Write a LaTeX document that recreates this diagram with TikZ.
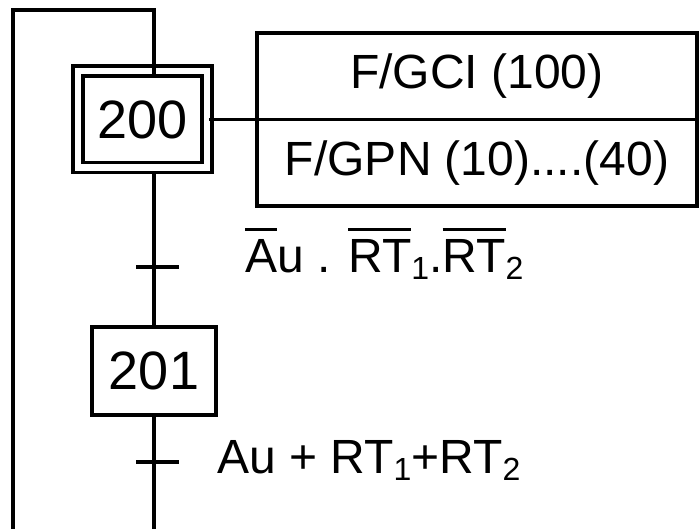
\documentclass[tikz,border=0pt]{standalone}
\usepackage{fontspec}
\setmainfont{Liberation Sans}
\usetikzlibrary{positioning}
\tikzstyle{etape} = [rectangle, draw=black, line width=3.5pt, minimum width=124pt, minimum height=88pt, inner sep=0pt, font=\fontsize{54}{54}\selectfont]
\tikzstyle{etapeinit} = [etape, double, double distance=6.5pt, minimum width=129pt, minimum height=96.5pt]
\tikzstyle{action} = [rectangle, draw=black, line width=3.5pt, outer sep=0pt, minimum width=440pt, minimum height=86.5pt, inner sep=0pt, font=\fontsize{48}{48}\selectfont]
\tikzstyle{liaison} = [line width=3.5pt]
\tikzstyle{recept} = [anchor=base west, inner sep=0pt, font=\fontsize{48}{48}\selectfont]
\newcommand{\barre}[1]{\leavevmode\vbox{\hrule height 3pt\kern 8pt\hbox{#1}}}
\newcommand{\indice}[1]{\raisebox{-7pt}{\fontsize{32}{32}\selectfont #1}}

\begin{document}
\begin{tikzpicture}[x=1pt, y=-1pt]
  \useasboundingbox (0,0) rectangle (700,529);
  \node[etapeinit] (s200) at (142.5,119.5) {200};
  \node[etape] (s201) at (154,371) {201};
  \node[action] (gci) at (477,76.25) {F/GCI (100)};
  \node[action, below=0pt of gci] (gpn) {F/GPN (10)....(40)};
  \coordinate (t1) at (154,267);
  \coordinate (t2) at (154,462);
  \coordinate (bas) at (154,529);
  \coordinate (retour) at (13,529);

  % liaisons
  \draw[liaison] (retour) -- (13,10) -- (154,10) -- ([yshift=-5pt]s200.north -| s201.north);
  \draw[liaison] ([yshift=-5pt]s200.south -| s201.north) -- (s201.north);
  \draw[liaison] (s201.south) -- (bas);
  \draw[liaison] (s200.east) -- (s200.east -| gci.south west);

  % receptivites
  \draw[liaison] ([xshift=-18pt]t1) -- ([xshift=25pt]t1);
  \draw[liaison] ([xshift=-18pt]t2) -- ([xshift=25pt]t2);
  \node[recept] (r1) at (245,272) {\barre{A}u . \barre{RT}\indice{1}.\barre{RT}\indice{2}};
  \node[recept] (r2) at (217,473) {Au + RT\indice{1}+RT\indice{2}};
\end{tikzpicture}
\end{document}
